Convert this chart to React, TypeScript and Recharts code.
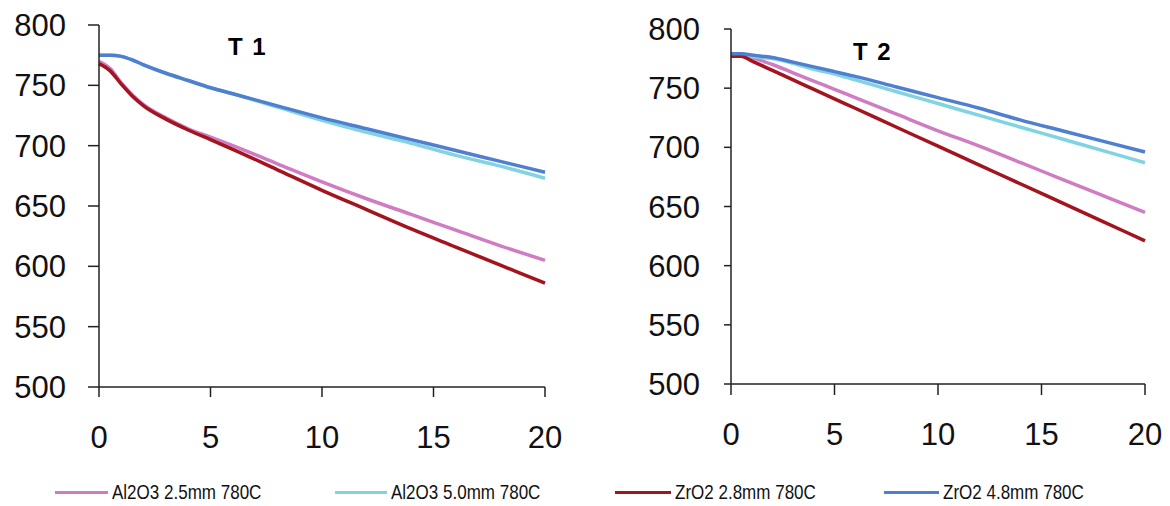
import { LineChart, Line, XAxis, YAxis } from 'recharts';

const times = [0, 0.5, 1, 1.5, 2, 3, 4, 5, 6, 8, 10, 12, 14, 16, 18, 20];

// T 1
const t1Al25 = [770, 764, 752, 742, 734, 723, 714, 707, 700, 685, 670, 656, 643, 630, 617, 605];
const t1Al50 = [775, 775, 774, 771, 767, 760, 754, 748, 743, 732, 721, 711, 702, 692, 683, 673];
const t1Zr28 = [768, 762, 751, 741, 733, 722, 713, 705, 697, 680, 663, 647, 631, 616, 601, 586];
const t1Zr48 = [775, 775, 774, 771, 767, 760, 754, 748, 743, 733, 723, 714, 705, 696, 687, 678];

// T 2
const t2Al25 = [778, 778, 776, 773, 770, 763, 756, 749, 742, 728, 714, 701, 687, 673, 659, 645];
const t2Al50 = [779, 779, 777, 776, 775, 771, 766, 762, 757, 747, 737, 727, 717, 707, 697, 687];
const t2Zr28 = [777, 777, 773, 769, 765, 757, 749, 741, 733, 717, 701, 685, 669, 653, 637, 621];
const t2Zr48 = [779, 779, 778, 777, 776, 772, 768, 764, 760, 751, 742, 733, 723, 714, 705, 696];

const xTicks = [0, 5, 10, 15, 20];
const yTicks = [500, 550, 600, 650, 700, 750, 800];

const seriesNames = ['Al2O3 2.5mm 780C', 'Al2O3 5.0mm 780C', 'ZrO2 2.8mm 780C', 'ZrO2 4.8mm 780C'];
const seriesKeys = ['al25', 'al50', 'zr28', 'zr48'];
const colors = ['#d07cc2', '#82d3e2', '#a3141e', '#4f7fcf'];

const t1Data = times.map((t, i) => ({ t, al25: t1Al25[i], al50: t1Al50[i], zr28: t1Zr28[i], zr48: t1Zr48[i] }));
const t2Data = times.map((t, i) => ({ t, al25: t2Al25[i], al50: t2Al50[i], zr28: t2Zr28[i], zr48: t2Zr48[i] }));

const font = '"Liberation Sans", Arial, sans-serif';
const tickStyle = { fontSize: 31, fill: '#111', fontFamily: font };
const axisStyle = { stroke: '#222', strokeWidth: 1.5 };

interface PanelProps {
    data: { t: number; [k: string]: number }[];
    width: number;
    margin: { top: number; right: number; bottom: number; left: number };
    yWidth: number;
    yTickSize: number;
    yTickMargin: number;
    xTickSize: number;
    xTickMargin: number;
}

const Panel = ({ data, width, margin, yWidth, yTickSize, yTickMargin, xTickSize, xTickMargin }: PanelProps) => (
    <LineChart width={width} height={470} data={data} margin={margin}>
        <XAxis
            dataKey='t'
            type='number'
            domain={[0, 20]}
            ticks={xTicks}
            height={60}
            tick={tickStyle}
            axisLine={axisStyle}
            tickLine={axisStyle}
            tickSize={xTickSize}
            tickMargin={xTickMargin}
        />
        <YAxis
            type='number'
            domain={[500, 800]}
            ticks={yTicks}
            width={yWidth}
            tick={tickStyle}
            axisLine={axisStyle}
            tickLine={axisStyle}
            tickSize={yTickSize}
            tickMargin={yTickMargin}
        />
        {seriesKeys.map((key, index) => (
            <Line
                key={key}
                dataKey={key}
                type='monotone'
                stroke={colors[index]}
                strokeWidth={3.5}
                dot={false}
                isAnimationActive={false}
            />
        ))}
    </LineChart>
);

const legendPos = [
    { line: 55, text: 112 },
    { line: 335, text: 391 },
    { line: 615, text: 675 },
    { line: 884, text: 943 },
];

const App = () => {
    return (
        <div style={{ position: 'absolute', left: 0, top: 0, width: 1170, height: 506, background: '#fff', fontFamily: font }}>
            <div style={{ position: 'absolute', left: 0, top: 0 }}>
                <Panel
                    data={t1Data}
                    width={580}
                    margin={{ top: 25, right: 35, bottom: 23, left: 0 }}
                    yWidth={99}
                    yTickSize={11}
                    yTickMargin={22}
                    xTickSize={10}
                    xTickMargin={29}
                />
            </div>
            <div style={{ position: 'absolute', left: 600, top: 0 }}>
                <Panel
                    data={t2Data}
                    width={570}
                    margin={{ top: 29, right: 25, bottom: 26, left: 0 }}
                    yWidth={131}
                    yTickSize={7}
                    yTickMargin={24}
                    xTickSize={11}
                    xTickMargin={28}
                />
            </div>
            <div style={{ position: 'absolute', left: 228, top: 33, fontSize: 24, fontWeight: 'bold', lineHeight: '28px', wordSpacing: 3 }}>T 1</div>
            <div style={{ position: 'absolute', left: 853, top: 38, fontSize: 24, fontWeight: 'bold', lineHeight: '28px', wordSpacing: 3 }}>T 2</div>
            {seriesNames.map((name, i) => (
                <div key={name}>
                    <div
                        style={{
                            position: 'absolute',
                            left: legendPos[i].line,
                            top: 491,
                            width: legendPos[i].text - legendPos[i].line - 4,
                            height: 3,
                            background: colors[i],
                        }}
                    />
                    <div
                        style={{
                            position: 'absolute',
                            left: legendPos[i].text,
                            top: 479,
                            fontSize: 21,
                            lineHeight: '26px',
                            color: '#111',
                            whiteSpace: 'nowrap',
                            transform: 'scaleX(0.81)',
                            transformOrigin: 'left center',
                        }}
                    >
                        {name}
                    </div>
                </div>
            ))}
        </div>
    );
};

export default App;
